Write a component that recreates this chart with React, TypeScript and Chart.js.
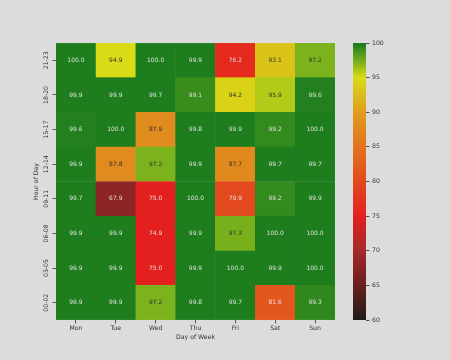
import React, { useEffect, useRef } from "react";
import { Chart, registerables } from "chart.js";

Chart.register(...registerables);

const days = ["Mon", "Tue", "Wed", "Thu", "Fri", "Sat", "Sun"];
const hourBlocks = ["00-02", "03-05", "06-08", "09-11", "12-14", "15-17", "18-20", "21-23"];

const h00_02 = [99.9, 99.9, 97.2, 99.8, 99.7, 81.6, 99.3];
const h03_05 = [99.9, 99.9, 75.0, 99.9, 100.0, 99.9, 100.0];
const h06_08 = [99.9, 99.9, 74.9, 99.9, 97.3, 100.0, 100.0];
const h09_11 = [99.7, 67.9, 75.0, 100.0, 79.9, 99.2, 99.9];
const h12_14 = [99.9, 87.8, 97.2, 99.9, 87.7, 99.7, 99.7];
const h15_17 = [99.6, 100.0, 87.9, 99.8, 99.9, 99.2, 100.0];
const h18_20 = [99.9, 99.9, 99.7, 99.1, 94.2, 95.9, 99.6];
const h21_23 = [100.0, 94.9, 100.0, 99.9, 76.2, 93.1, 97.2];
const rows = [h00_02, h03_05, h06_08, h09_11, h12_14, h15_17, h18_20, h21_23];

const scaleMin = 60;
const scaleMax = 100;
const cmapValues = [60, 65, 70, 75, 80, 85, 90, 95, 97.2, 99.0, 99.7, 100];
const cmapColors: number[][] = [
  [30, 28, 28],
  [105, 30, 30],
  [165, 42, 42],
  [228, 32, 30],
  [226, 74, 30],
  [226, 115, 30],
  [223, 157, 30],
  [216, 220, 22],
  [124, 178, 28],
  [60, 143, 28],
  [30, 126, 30],
  [30, 126, 30],
];

function rgbFor(v: number): number[] {
  if (v <= cmapValues[0]) return cmapColors[0];
  for (let i = 1; i < cmapValues.length; i++) {
    if (v <= cmapValues[i]) {
      const t = (v - cmapValues[i - 1]) / (cmapValues[i] - cmapValues[i - 1]);
      const a = cmapColors[i - 1];
      const b = cmapColors[i];
      return [0, 1, 2].map((k) => Math.round(a[k] + (b[k] - a[k]) * t));
    }
  }
  return cmapColors[cmapColors.length - 1];
}
const css = (c: number[]) => `rgb(${c[0]},${c[1]},${c[2]})`;
const colorFor = (v: number) => css(rgbFor(v));

const FONT = "'DejaVu Sans', sans-serif";
const TEXT = "#333333";

const cellLabels = {
  id: "cellLabels",
  afterDatasetsDraw(chart: any) {
    const ctx = chart.ctx;
    ctx.save();
    ctx.font = `6px ${FONT}`;
    ctx.textAlign = "center";
    ctx.textBaseline = "middle";
    chart.data.datasets.forEach((ds: any, r: number) => {
      const meta = chart.getDatasetMeta(r);
      meta.data.forEach((el: any, c: number) => {
        const v = rows[r][c];
        const p = el.getProps(["x", "y", "base"], true);
        const rgb = rgbFor(v);
        const lum = (0.299 * rgb[0] + 0.587 * rgb[1] + 0.114 * rgb[2]) / 255;
        ctx.fillStyle = lum > 0.5 ? "#333333" : "rgba(232,232,232,0.92)";
        ctx.fillText(v.toFixed(1), p.x, (p.y + p.base) / 2);
      });
    });
    ctx.restore();
  },
};

export default function App() {
  const mainRef = useRef<HTMLCanvasElement>(null);
  const barRef = useRef<HTMLCanvasElement>(null);

  useEffect(() => {
    Chart.defaults.font.family = FONT;
    Chart.defaults.font.size = 6;
    Chart.defaults.color = TEXT;

    const main = new Chart(mainRef.current as HTMLCanvasElement, {
      type: "bar",
      data: {
        labels: days,
        datasets: rows.map((vals, r) => ({
          label: hourBlocks[r],
          data: vals.map(() => [r, r + 1]),
          backgroundColor: vals.map(colorFor),
          borderColor: vals.map(colorFor),
          borderWidth: 0.5,
          borderSkipped: false,
          barPercentage: 1,
          categoryPercentage: 1,
          grouped: false,
        })) as any,
      },
      options: {
        animation: false,
        responsive: false,
        events: [],
        layout: { padding: { left: 29.5, right: 115, top: 43, bottom: 16 } },
        plugins: { legend: { display: false }, tooltip: { enabled: false } },
        scales: {
          x: {
            type: "category",
            offset: true,
            grid: { offset: false, drawOnChartArea: false, drawTicks: true, tickLength: 3.5, color: TEXT, lineWidth: 0.8 },
            border: { display: false },
            ticks: { color: TEXT, padding: 1.5, font: { size: 6.2 }, maxRotation: 0 },
            title: { display: true, text: "Day of Week", color: TEXT, font: { size: 6.2 }, padding: 3 },
            afterFit: (s: any) => {
              s.height = 24;
            },
          },
          y: {
            type: "linear",
            min: 0,
            max: hourBlocks.length,
            grid: { drawOnChartArea: false, drawTicks: true, tickLength: 3.5, color: TEXT, lineWidth: 0.8 },
            border: { display: false },
            afterBuildTicks: (s: any) => {
              s.ticks = hourBlocks.map((_, i) => ({ value: i + 0.5 }));
            },
            ticks: {
              color: TEXT,
              font: { size: 6.2 },
              minRotation: 90,
              maxRotation: 90,
              crossAlign: "center",
              padding: -3,
              callback: (v: any) => hourBlocks[Math.floor(Number(v))],
            },
            title: { display: true, text: "Hour of Day", color: TEXT, font: { size: 6.2 }, padding: 3 },
            afterFit: (s: any) => {
              s.width = 26.5;
            },
          },
        },
      },
      plugins: [cellLabels],
    });

    const bar = new Chart(barRef.current as HTMLCanvasElement, {
      type: "bar",
      data: {
        labels: [""],
        datasets: [
          {
            data: [[scaleMin, scaleMax]] as any,
            backgroundColor: (c: any) => {
              const ch = c.chart;
              if (!ch.chartArea) return "#888";
              const y = ch.scales.y;
              const g = ch.ctx.createLinearGradient(0, y.getPixelForValue(scaleMin), 0, y.getPixelForValue(scaleMax));
              cmapValues.forEach((v, i) => g.addColorStop((v - scaleMin) / (scaleMax - scaleMin), css(cmapColors[i])));
              return g;
            },
            borderWidth: 0,
            barPercentage: 1,
            categoryPercentage: 1,
          },
        ],
      },
      options: {
        animation: false,
        responsive: false,
        events: [],
        layout: { padding: { left: 10, right: 0, top: 43, bottom: 40 } },
        plugins: { legend: { display: false }, tooltip: { enabled: false } },
        scales: {
          x: { display: false },
          y: {
            position: "right",
            min: scaleMin,
            max: scaleMax,
            grid: { drawOnChartArea: false, drawTicks: true, tickLength: 3.5, color: TEXT, lineWidth: 0.8 },
            border: { display: false },
            ticks: { stepSize: 5, color: TEXT, padding: 2.5, font: { size: 6.2 } },
            afterFit: (s: any) => {
              s.width = 84;
            },
          },
        },
      },
    });

    return () => {
      main.destroy();
      bar.destroy();
    };
  }, []);

  return (
    <div style={{ position: "fixed", left: 0, top: 0, width: 450, height: 360, background: "#dcdcdc", overflow: "hidden" }}>
      <canvas ref={mainRef} width={450} height={360} style={{ position: "absolute", left: 0, top: 0 }} />
      <canvas ref={barRef} width={107} height={360} style={{ position: "absolute", left: 343, top: 0 }} />
    </div>
  );
}
